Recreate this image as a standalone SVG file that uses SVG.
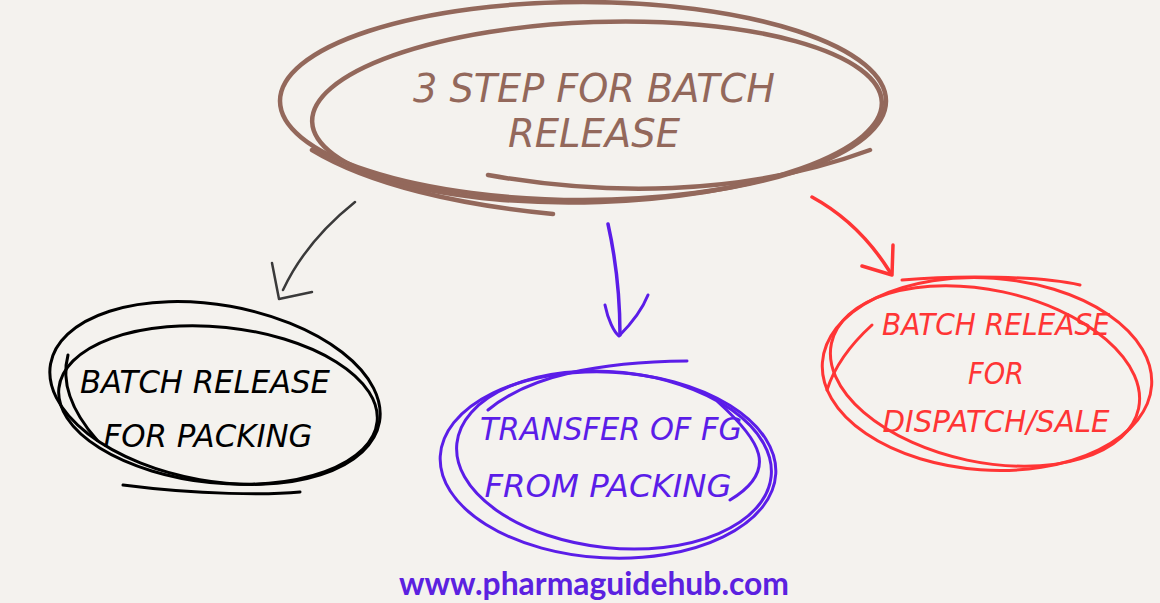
<svg xmlns="http://www.w3.org/2000/svg" width="1160" height="603" viewBox="0 0 1160 603">
<style>
.hand{font-family:"DejaVu Sans Condensed","Liberation Sans",sans-serif;font-style:italic;font-weight:normal}
.stroke{fill:none;stroke-linecap:round;stroke-linejoin:round}
.brown{stroke:#93685b;stroke-width:4.5}
.blk{stroke:#000;stroke-width:3}
.pur{stroke:#5b1de8;stroke-width:3}
.red{stroke:#ff3535;stroke-width:3}
</style>
<rect width="1160" height="603" fill="#f4f2ee"/>
<g id="title">
<ellipse class="stroke brown" cx="583" cy="101" rx="303" ry="99"/>
<ellipse class="stroke brown" cx="597" cy="112" rx="285" ry="90" transform="rotate(-2 597 112)"/>
<path class="stroke brown" d="M488 175 C600 195 740 198 870 150"/>
<path class="stroke brown" d="M312 150 C370 185 460 205 553 214"/>
<text class="hand" fill="#93685b" font-size="39" text-anchor="middle"><tspan x="594" y="102" textLength="362" lengthAdjust="spacingAndGlyphs">3 STEP FOR BATCH</tspan><tspan x="594" y="147" textLength="172" lengthAdjust="spacingAndGlyphs">RELEASE</tspan></text>
</g>
<g id="node-packing">
<ellipse class="stroke blk" cx="215" cy="393" rx="167" ry="88" transform="rotate(10 215 393)"/>
<ellipse class="stroke blk" cx="218" cy="405" rx="160" ry="78" transform="rotate(6 218 405)"/>
<path class="stroke blk" d="M97 440 C75 415 60 385 68 355"/>
<path class="stroke blk" d="M123 485 C200 495 270 495 300 492"/>
<text class="hand" fill="#000" font-size="32" text-anchor="middle"><tspan x="205" y="393" textLength="250" lengthAdjust="spacingAndGlyphs">BATCH RELEASE</tspan><tspan x="208" y="447" textLength="209" lengthAdjust="spacingAndGlyphs">FOR PACKING</tspan></text>
</g>
<g id="node-transfer">
<ellipse class="stroke pur" cx="608" cy="465" rx="168" ry="93" transform="rotate(3 608 465)"/>
<ellipse class="stroke pur" cx="614" cy="460" rx="158" ry="88" transform="rotate(6 614 460)"/>
<path class="stroke pur" d="M488 410 C530 375 600 362 687 361"/>
<path class="stroke pur" d="M718 402 C760 440 780 470 730 500"/>
<text class="hand" fill="#5b1de8" font-size="32" text-anchor="middle"><tspan x="611" y="440" textLength="262" lengthAdjust="spacingAndGlyphs">TRANSFER OF FG</tspan><tspan x="608" y="497" textLength="247" lengthAdjust="spacingAndGlyphs">FROM PACKING</tspan></text>
</g>
<g id="node-dispatch">
<ellipse class="stroke red" cx="987" cy="374" rx="165" ry="96" transform="rotate(4 987 374)"/>
<ellipse class="stroke red" cx="985" cy="376" rx="157" ry="86" transform="rotate(12 985 376)"/>
<path class="stroke red" d="M902 280 C960 275 1040 276 1080 285"/>
<path class="stroke red" d="M872 325 C850 345 835 365 827 390"/>
<text class="hand" fill="#ff3535" font-size="30" text-anchor="middle"><tspan x="996" y="335" textLength="228" lengthAdjust="spacingAndGlyphs">BATCH RELEASE</tspan><tspan x="996" y="384" textLength="56" lengthAdjust="spacingAndGlyphs">FOR</tspan><tspan x="996" y="432" textLength="227" lengthAdjust="spacingAndGlyphs">DISPATCH/SALE</tspan></text>
</g>
<g id="connectors">
<path class="stroke" stroke="#3a3a3a" stroke-width="2.5" d="M355 202 C320 230 298 258 283 290"/>
<path class="stroke" stroke="#3a3a3a" stroke-width="2.5" d="M272 263 L279 299 L312 292"/>
<path class="stroke" stroke="#5b1de8" stroke-width="3.5" d="M608 224 C616 260 620 300 620 335"/>
<path class="stroke" stroke="#5b1de8" stroke-width="3" d="M605 305 C608 320 614 332 619 336 C630 325 642 310 648 295"/>
<path class="stroke" stroke="#ff3535" stroke-width="3.5" d="M812 197 C845 215 870 240 890 272"/>
<path class="stroke" stroke="#ff3535" stroke-width="3.5" d="M862 266 L892 275 L893 245"/>
</g>
<text x="594" y="595" font-family="Lato,'Open Sans',sans-serif" font-weight="bold" font-size="32" fill="#5b21e0" text-anchor="middle" textLength="390" lengthAdjust="spacingAndGlyphs">www.pharmaguidehub.com</text>
</svg>
